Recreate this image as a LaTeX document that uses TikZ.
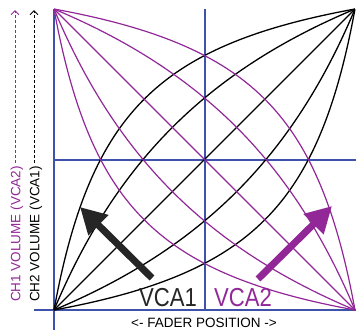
\documentclass[tikz,border=0pt]{standalone}
\usepackage{fontspec}
\setmainfont{Liberation Sans}
\usetikzlibrary{arrows.meta}
\definecolor{axisblue}{RGB}{62,82,172}
\definecolor{vpurple}{RGB}{146,40,152}
\tikzset{
  axisline/.style={axisblue, line width=1.2pt},
  blackcurve/.style={black, line width=1.3pt},
  purplecurve/.style={vpurple, line width=1.2pt},
  bigarrow/.style={line width=7pt, -{Triangle[length=26pt,width=27pt]}},
  axlabel/.style={font=\fontsize{13.5}{14}\selectfont, inner sep=0pt},
  vcalabel/.style={font=\fontsize{26}{26}\selectfont, inner sep=0pt},
  dasharrow/.style={line width=1pt, dash pattern=on 3pt off 2pt, -{Straight Barb[length=4pt,width=8pt]}}
}
\begin{document}
\begin{tikzpicture}[x=1pt,y=-1pt]
\useasboundingbox (0,0) rectangle (356,330);
% axes and centre lines
\draw[axisline] (54,9) -- (54,330);
\draw[axisline] (34,310) -- (356,310);
\draw[axisline] (205,9) -- (205,310);
\draw[axisline] (54,160) -- (356,160);
% black family
\foreach \k in {0.183,0.42,1,2.38,5.46}{
  \draw[blackcurve] plot[domain=0:1, samples=90, smooth] ({54+301*\x},{310-301*\x/(\x+\k*(1-\x))});
}
% purple family
\foreach \k in {0.183,0.42,1,2.38,5.46}{
  \draw[purplecurve] plot[domain=0:1, samples=90, smooth] ({355-301*\x},{310-301*\x/(\x+\k*(1-\x))});
}
% big arrows
\coordinate (a1s) at (152,278);
\coordinate (a1e) at (80,207);
\coordinate (a2s) at (258,279);
\coordinate (a2e) at (332,206);
\draw[bigarrow, black!85] (a1s) -- (a1e);
\draw[bigarrow, vpurple] (a2s) -- (a2e);
% labels
\node[vcalabel, black!85] (vca1) at (168,298) {\scalebox{0.85}[1]{VCA1}};
\node[vcalabel, vpurple] (vca2) at (243,298) {\scalebox{0.85}[1]{VCA2}};
\node[axlabel] (fader) at (204,323) {<- FADER POSITION ->};
\node[axlabel, vpurple, rotate=90, anchor=west] (ch1) at (17,302) {CH1 VOLUME (VCA2)};
\node[axlabel, black, rotate=90, anchor=west] (ch2) at (36,302) {CH2 VOLUME (VCA1)};
\coordinate (ch1top) at (15,10);
\coordinate (ch2top) at (34,10);
\draw[dasharrow, vpurple] (ch1.east) ++(-2,-3) coordinate (ch1s) -- (ch1s |- ch1top);
\draw[dasharrow, black] (ch2.east) ++(-2,-3) coordinate (ch2s) -- (ch2s |- ch2top);
\end{tikzpicture}
\end{document}
